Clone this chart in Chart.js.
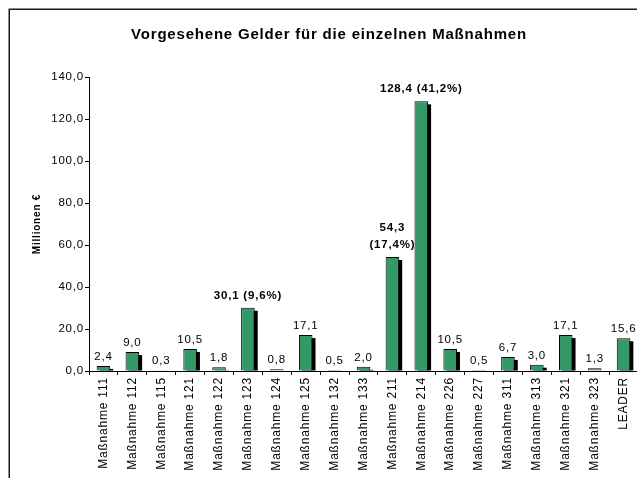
<!DOCTYPE html>
<html><head><meta charset="utf-8">
<script src="https://cdn.jsdelivr.net/npm/chart.js@4"></script>
<style>html,body{margin:0;padding:0;overflow:hidden;background:#fff}canvas{display:block}</style>
</head><body>
<canvas id="c" width="660" height="478"></canvas>
<script>
const titleText = 'Vorgesehene Gelder für die einzelnen Maßnahmen';
const yAxisTitle = 'Millionen €';
const categories = ['Maßnahme 111','Maßnahme 112','Maßnahme 115','Maßnahme 121','Maßnahme 122','Maßnahme 123','Maßnahme 124','Maßnahme 125','Maßnahme 132','Maßnahme 133','Maßnahme 211','Maßnahme 214','Maßnahme 226','Maßnahme 227','Maßnahme 311','Maßnahme 313','Maßnahme 321','Maßnahme 323','LEADER'];
const values = [2.4, 9.0, 0.3, 10.5, 1.8, 30.1, 0.8, 17.1, 0.5, 2.0, 54.3, 128.4, 10.5, 0.5, 6.7, 3.0, 17.1, 1.3, 15.6];
const shares = [null, null, null, null, null, 9.6, null, null, null, null, 17.4, 41.2, null, null, null, null, null, null, null];
const twoLineLabels = ['Maßnahme 211'];
const yMin = 0, yMax = 140, yStep = 20;

const FONT = "'Liberation Sans', Arial, sans-serif";
const fmt = v => v.toFixed(1).replace('.', ',');

const decor = {
  id: 'decor',
  beforeDraw(chart) {
    const ctx = chart.ctx;
    ctx.save();
    ctx.fillStyle = '#fff';
    ctx.fillRect(0, 0, chart.width, chart.height);
    ctx.strokeStyle = '#1a1a1a';
    ctx.lineWidth = 1.5;
    ctx.strokeRect(9.25, 9.25, chart.width + 40, chart.height + 40);
    ctx.restore();
    ctx.letterSpacing = '0.8px';
  },
  beforeDatasetsDraw(chart) {
    const ctx = chart.ctx;
    const meta = chart.getDatasetMeta(0);
    ctx.save();
    ctx.fillStyle = '#000';
    meta.data.forEach(el => {
      const p = el.getProps(['x', 'y', 'base', 'width'], true);
      const top = Math.min(p.y, p.base) + 3;
      if (p.base - top > 0) ctx.fillRect(p.x - p.width / 2 + 3, top, p.width, p.base - top);
    });
    ctx.restore();
  },
  afterDatasetsDraw(chart) {
    const ctx = chart.ctx;
    const meta = chart.getDatasetMeta(0);
    ctx.save();
    ctx.fillStyle = '#000';
    ctx.textAlign = 'center';
    ctx.textBaseline = 'alphabetic';
    meta.data.forEach((el, i) => {
      const p = el.getProps(['x', 'y'], true);
      const share = shares[i];
      if (share != null) {
        ctx.font = 'bold 11.5px ' + FONT;
        const y = p.y - 9;
        if (twoLineLabels.includes(categories[i])) {
          ctx.fillText('(' + fmt(share) + '%)', p.x, y);
          ctx.fillText(fmt(values[i]), p.x, y - 17);
        } else {
          ctx.fillText(fmt(values[i]) + ' (' + fmt(share) + '%)', p.x, y);
        }
      } else {
        ctx.font = '11.5px ' + FONT;
        ctx.fillText(fmt(values[i]), p.x, p.y - 6);
      }
    });
    ctx.restore();
  }
};

new Chart(document.getElementById('c'), {
  type: 'bar',
  data: {
    labels: categories,
    datasets: [{
      data: values,
      backgroundColor: '#339966',
      borderColor: '#000',
      borderWidth: 1,
      barPercentage: 0.47,
      categoryPercentage: 1
    }]
  },
  options: {
    responsive: false,
    devicePixelRatio: 1,
    animation: false,
    layout: { padding: { right: 22, left: 20, top: 0, bottom: 0 } },
    plugins: {
      legend: { display: false },
      tooltip: { enabled: false },
      title: {
        display: true,
        text: titleText,
        color: '#000',
        font: { family: FONT, size: 15, weight: 'bold' },
        padding: { top: 26, bottom: 33 }
      }
    },
    scales: {
      x: {
        ticks: { autoSkip: false, maxRotation: 90, minRotation: 90, color: '#000', font: { family: FONT, size: 12 }, padding: 2 },
        grid: { drawOnChartArea: false, drawTicks: true, tickLength: 4, color: '#000', offset: true },
        border: { display: true, color: '#000', width: 1 },
        afterFit(s) { s.height = 107; }
      },
      y: {
        min: yMin, max: yMax,
        ticks: { stepSize: yStep, callback: v => fmt(v), color: '#000', font: { family: FONT, size: 11.5 }, padding: 1 },
        grid: { drawOnChartArea: false, drawTicks: true, tickLength: 4, color: '#000' },
        border: { display: true, color: '#000', width: 1 },
        title: { display: true, text: yAxisTitle, color: '#000', font: { family: FONT, size: 10, weight: 'bold' }, padding: { top: 11, bottom: 0 } },
        afterFit(s) { s.width = 69; }
      }
    }
  },
  plugins: [decor]
});
</script>
</body></html>
